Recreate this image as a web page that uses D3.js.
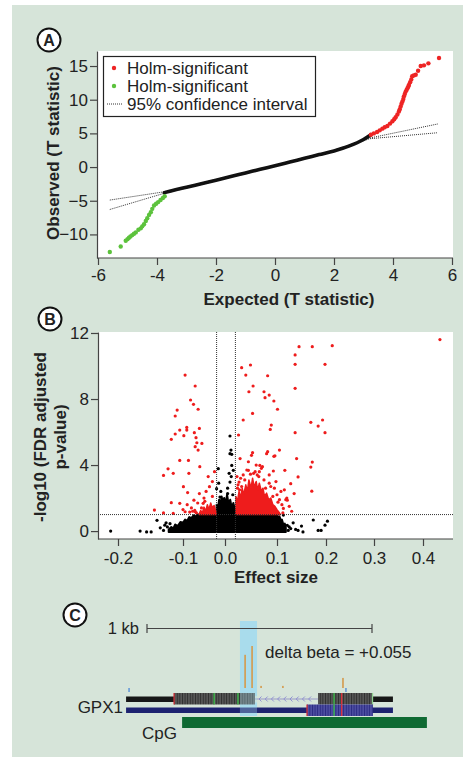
<!DOCTYPE html>
<html><head><meta charset="utf-8">
<script src="https://cdn.jsdelivr.net/npm/d3@7"></script>
<style>
body{margin:0;background:#fff}
svg{display:block}
text{font-family:"Liberation Sans",Arial,Helvetica,sans-serif;fill:#222}
</style>
</head><body>
<svg id="chart" width="463" height="757"></svg>
<script>
// ---------------- DATA ----------------
// Panel A : QQ plot
const qqTicksX = [-6,-4,-2,0,2,4,6];
const qqTicksY = [-10,-5,0,5,10,15];
const qqBodyExpected = [-3.75,-3.5,-3,-2.5,-2,-1.5,-1,-0.5,0,0.5,1,1.5,2,2.5,3,3.25];
const qqBodyObserved = [-3.8,-3.5,-3.0,-2.47,-1.95,-1.4,-0.87,-0.33,0.2,0.75,1.3,1.85,2.4,3.1,4.1,4.8];
const qqUpExpected = [3.25,3.35,3.46,3.55,3.64,3.72,3.81,3.9,3.98,4.04,4.09,4.15,4.2,4.23,4.26,4.29,4.32,4.35,4.37,4.4,4.43,4.46,4.49,4.52,4.54,4.58,4.62,4.65,4.7,4.77,4.85,4.94,5.05,5.2,5.56];
const qqUpObserved = [4.8,5.0,5.2,5.45,5.7,5.9,6.1,6.45,6.8,7.1,7.4,7.8,8.25,8.6,9.0,9.4,9.75,10.1,10.5,10.85,11.2,11.45,11.7,11.95,12.2,12.6,13.0,13.5,13.6,13.7,14.3,15.0,15.1,15.4,16.2];
const qqLowExpected = [-3.74,-3.8,-3.88,-3.96,-4.03,-4.1,-4.16,-4.21,-4.27,-4.33,-4.38,-4.44,-4.5,-4.55,-4.63,-4.72,-4.78,-4.84,-4.9,-4.95,-5.0,-5.06,-5.23,-5.6];
const qqLowObserved = [-4.33,-4.6,-4.9,-5.2,-5.45,-5.7,-6.2,-6.7,-7.1,-7.6,-8.0,-8.5,-8.8,-9.1,-9.3,-9.7,-9.9,-10.1,-10.3,-10.5,-10.7,-10.95,-11.8,-12.6];
const ciExpected = [-5.6,-3.8,-2,0,2,3.2,5.52];
const ciUpper = [-4.9,-3.7,-1.85,0.3,2.5,4.3,6.4];
const ciLower = [-6.3,-3.95,-2.05,0.1,2.3,4.2,5.1];
const legendLabels = ["Holm-significant","Holm-significant","95% confidence interval"];

// Panel B : volcano plot
const volTicksX = [-0.2,-0.1,0.0,0.1,0.2,0.3,0.4];
const volTickLabelsX = ["-0.2","-0.1","0.0","0.1","0.2","0.3","0.4"];
const volTicksY = [0,4,8,12];
const effectCut = [-0.02, 0.02];
const fdrCut = 1;
const sigX = [0.435,0.145,0.172,0.213,0.137,0.137,0.198,0.049,0.032,0.04,0.082,-0.095,-0.071,0.054,0.046,0.075,0.085,0.077,0.094,0.137,-0.082,-0.075,-0.064,-0.109,-0.112,0.101,0.053,0.035,0.089,0.087,0.169,0.193,0.184,0.198,0.137,-0.105,-0.091,-0.091,-0.061,-0.112,-0.098,-0.118,-0.073,0.026,-0.069,-0.067,-0.055,-0.071,-0.064,0.053,0.082,0.105,0.096,
  -0.13,-0.123,-0.115,-0.099,-0.086,-0.06,-0.04,-0.037,-0.089,-0.118,-0.105,-0.144,-0.061,-0.074,-0.052,-0.034,-0.071,-0.095,-0.115,-0.105,-0.087,0.051,0.08,0.094,0.14,0.172,0.169,0.171,0.045,0.067,0.093,0.116,0.143,0.128,0.135,0.121,0.113,0.029,0.027,
  0.035,0.055,0.065,0.075,0.085,0.095,0.1,0.105,0.11,0.025,0.03,0.045,0.06,0.07,0.085,0.115,0.12,0.125,0.13,-0.05,-0.045,-0.03,-0.08,-0.09,-0.1,-0.065,-0.13,-0.03,-0.025,0.108,0.118,0.098,0.058,0.042,0.072,0.088,-0.042,-0.056,-0.077,0.023,0.024,
  -0.068,-0.072,-0.084,-0.048,-0.038,-0.028,0.112,0.102,0.092,0.078,0.062,0.038,0.032,0.028,0.066,0.049];
const sigY = [11.6,11.17,11.17,11.23,10.67,10.1,10.1,10.06,9.9,9.45,9.41,9.45,8.79,8.79,8.44,8.44,8.24,8.08,7.88,8.65,7.94,7.68,7.38,7.33,6.97,7.38,7.13,6.73,6.42,6.16,6.59,6.73,6.36,5.96,5.96,6.12,6.28,6.12,6.22,5.88,5.78,5.56,5.96,5.82,5.66,5.35,5.31,5.11,4.91,4.75,4.81,4.91,4.56,
  3.37,3.77,3.5,2.69,3.5,3.9,3.3,2.69,2.33,1.72,1.68,1.27,2.27,1.87,1.68,1.47,1.17,1.17,1.07,4.28,4.28,4.59,4.69,4.53,4.39,4.18,3.88,2.42,3.68,3.98,3.64,3.68,3.28,2.87,2.27,1.87,1.37,4.39,2.97,
  3.4,3.5,3.3,3.1,2.9,2.6,2.2,1.9,1.6,2.8,3.2,4.2,4.0,3.8,3.4,2.5,2.0,1.5,1.2,2.0,2.4,2.1,1.4,1.6,1.3,1.7,1.1,3.0,3.6,2.4,1.9,3.0,3.6,3.7,3.9,2.7,1.2,1.4,1.2,3.3,2.6,
  1.1,1.25,1.15,1.8,1.3,1.45,1.1,1.75,2.1,2.6,3.4,3.1,2.7,2.5,3.6,3.45];
const nsX = [0.0096,0.0115,0.013,0.0096,0.013,0.016,-0.016,0.0096,-0.02,0.005,-0.012,0.005,-0.01,0.015,-0.015,0.012,0.008,
  -0.211,-0.166,-0.156,-0.149,-0.14,-0.13,-0.128,0.133,0.15,0.174,0.184,0.19,0.203,0.198,0.123,0.143,0.153,0.105,0.113,-0.135,-0.12,0.125,0.138,-0.126,-0.124,0.121,0.128];
const nsY = [5.76,4.91,4.65,4.69,3.98,3.68,3.78,2.97,2.57,2.27,2.06,2.6,2.4,2.2,2.9,3.3,3.5,
  0.0,0.0,-0.05,-0.05,0.65,0.04,0.36,0.5,0.3,0.67,0.04,0.04,0.6,0.36,0.04,0.04,-0.05,0.75,0.97,0.2,0.45,0.25,0.1,0.5,0.25,0.35,0.15];
// dense point clouds (outlines)
const denseNsX = [-0.122,-0.122,-0.118,-0.115,-0.112,-0.108,-0.104,-0.1,-0.095,-0.09,-0.085,-0.08,-0.075,-0.07,-0.065,-0.06,-0.02,-0.02,-0.017,-0.014,-0.011,-0.008,-0.005,-0.002,0.001,0.004,0.007,0.01,0.013,0.016,0.02,0.02,0.1,0.102,0.105,0.108,0.11,0.113,0.116,0.118,0.118];
const denseNsY = [-0.05,0.1,0.25,0.15,0.4,0.3,0.55,0.5,0.7,0.62,0.85,0.78,0.95,0.88,1.0,1.0,1.0,1.6,1.3,1.9,1.5,2.1,1.7,2.0,1.6,2.2,1.6,1.9,1.4,1.7,1.2,1.0,1.0,0.8,0.9,0.6,0.7,0.4,0.45,0.2,-0.05];
const denseSigX = [0.021,0.021,0.024,0.027,0.03,0.033,0.036,0.04,0.043,0.046,0.05,0.053,0.056,0.06,0.063,0.066,0.07,0.073,0.076,0.08,0.084,0.088,0.092,0.096,0.1,0.104,0.107];
const denseSigY = [1.0,2.1,1.8,2.4,2.0,2.6,2.2,2.8,2.4,3.1,2.6,3.2,2.7,3.0,2.5,2.9,2.4,2.6,2.1,2.3,1.9,2.0,1.6,1.5,1.3,1.15,1.0];
const denseSigLeftX = [-0.062,-0.058,-0.054,-0.05,-0.046,-0.042,-0.038,-0.034,-0.03,-0.026,-0.022,-0.021];
const denseSigLeftY = [1.0,1.25,1.1,1.45,1.2,1.6,1.3,1.7,1.35,1.55,1.2,1.0];

// Panel C : genome browser (bp relative to scale bar start)
const scaleBarBp = [0, 1000];
const scaleBarLabel = "1 kb";
const highlightBp = [413, 489];
const methylPosBp = [436, 467, 507, 604, 871];
const methylValue = [0.79, 1.0, 0.05, 0.05, 0.24];
const snpPosBp = [-80, 884];
const deltaBetaLabel = "delta beta = +0.055";
const txRange = [-93, 1093];
const tx1Blocks = [[120,480],[760,1004]];
const tx1Intron = [480,760];
const tx2Blocks = [[711,1004]];
const tx1MarkBp = [120,298,404,831,865,1002];
const tx1MarkColor = ["#d8323a","#3cc24a","#3cc24a","#3cc24a","#e0303a","#8fd08f"];
const tx2MarkBp = [711,831,865];
const tx2MarkColor = ["#d8323a","#3cc24a","#e0303a"];
const cpgBp = [156, 1244];
const geneLabel = "GPX1", cpgLabel = "CpG";

// ---------------- DRAW ----------------
const svg = d3.select("#chart");
const BG = "#d6e4d9";
svg.append("rect").attr("x",12).attr("y",5).attr("width",451).attr("height",752).attr("fill",BG);

function circleLabel(cx, cy, letter){
  svg.append("circle").attr("cx",cx).attr("cy",cy).attr("r",11.5).attr("fill","#fff").attr("stroke","#111").attr("stroke-width",2);
  svg.append("text").attr("x",cx).attr("y",cy+5.5).attr("text-anchor","middle").attr("font-size",16).attr("font-weight","bold").text(letter);
}

// ===== Panel A =====
const xA = d3.scaleLinear().domain([-6,6]).range([98,452]);
const yA = d3.scaleLinear().domain([-13.5,17.23]).range([258,51]);
svg.append("rect").attr("x",97).attr("y",51).attr("width",356).attr("height",207).attr("fill","#fff");

const ciLine = d3.line().x(d=>xA(d[0])).y(d=>yA(d[1]));
[ciUpper, ciLower].forEach(arr=>{
  svg.append("path").attr("d",ciLine(ciExpected.map((e,i)=>[e,arr[i]])))
    .attr("fill","none").attr("stroke","#333").attr("stroke-width",1).attr("stroke-dasharray","1,1");
});
svg.append("path").attr("d", d3.line().curve(d3.curveMonotoneX).x(d=>xA(d[0])).y(d=>yA(d[1]))(qqBodyExpected.map((e,i)=>[e,qqBodyObserved[i]])))
  .attr("fill","none").attr("stroke","#111").attr("stroke-width",3.6).attr("stroke-linecap","round");
svg.append("g").selectAll("circle").data(qqUpExpected.map((e,i)=>[e,qqUpObserved[i]])).join("circle")
  .attr("cx",d=>xA(d[0])).attr("cy",d=>yA(d[1])).attr("r",2.2).attr("fill","#ee2424");
svg.append("g").selectAll("circle").data(qqLowExpected.map((e,i)=>[e,qqLowObserved[i]])).join("circle")
  .attr("cx",d=>xA(d[0])).attr("cy",d=>yA(d[1])).attr("r",2.2).attr("fill","#5cc23c");

function styleAxis(g){
  g.selectAll("path.domain").attr("stroke","#444").attr("stroke-width",1.2);
  g.selectAll(".tick line").attr("stroke","#444").attr("stroke-width",1.2);
  g.selectAll(".tick text").attr("font-size",17).attr("fill","#222").attr("font-family","'Liberation Sans',Arial,sans-serif");
}
const axAy = svg.append("g").attr("transform","translate(97,0)")
  .call(d3.axisLeft(yA).tickValues(qqTicksY).tickSize(7).tickSizeOuter(0).tickPadding(2));
styleAxis(axAy);
const axAx = svg.append("g").attr("transform","translate(0,258)")
  .call(d3.axisBottom(xA).tickValues(qqTicksX).tickSize(7).tickSizeOuter(0).tickPadding(4).tickFormat(d=>String(d)));
axAx.select("path.domain").attr("d","M97,0H453");
styleAxis(axAx);

svg.append("text").attr("x",289).attr("y",305).attr("text-anchor","middle").attr("font-size",17).attr("font-weight","bold").text("Expected (T statistic)");
svg.append("text").attr("transform","translate(59,153) rotate(-90)").attr("text-anchor","middle").attr("font-size",17).attr("font-weight","bold").text("Observed (T statistic)");

// legend
const lg = svg.append("g");
lg.append("rect").attr("x",103.5).attr("y",56.5).attr("width",212).attr("height",60).attr("fill","#fff").attr("stroke","#222").attr("stroke-width",1.2);
const legColors = ["#ee2424","#5cc23c"];
legendLabels.forEach((t,i)=>{
  const cy = 68 + i*18;
  if(i<2) lg.append("circle").attr("cx",114).attr("cy",cy).attr("r",2.2).attr("fill",legColors[i]);
  else lg.append("line").attr("x1",107).attr("x2",123).attr("y1",cy).attr("y2",cy).attr("stroke","#333").attr("stroke-dasharray","1,1");
  lg.append("text").attr("x",127).attr("y",cy+6).attr("font-size",17).text(t);
});
circleLabel(49,40,"A");

// ===== Panel B =====
const xB = d3.scaleLinear().domain([-0.23,-0.2,-0.1,0,0.1,0.2,0.3,0.4,0.462]).range([98,118,183,225,277,326,374,423,453]);
const yB = d3.scaleLinear().domain([-0.48,12.06]).range([539,332]);
svg.append("rect").attr("x",98).attr("y",332).attr("width",355).attr("height",207).attr("fill","#fff");

const areaPath = (xs,ys)=> "M" + xs.map((x,i)=>xB(x)+","+yB(ys[i])).join("L") + "Z";
svg.append("path").attr("d",areaPath(denseNsX,denseNsY)).attr("fill","#000").attr("stroke","#000").attr("stroke-width",2).attr("stroke-linejoin","round");
svg.append("path").attr("d",areaPath(denseSigX,denseSigY)).attr("fill","#ee1c1c").attr("stroke","#ee1c1c").attr("stroke-width",1.5).attr("stroke-linejoin","round");
svg.append("path").attr("d",areaPath(denseSigLeftX,denseSigLeftY)).attr("fill","#ee1c1c").attr("stroke","#ee1c1c").attr("stroke-width",1.5).attr("stroke-linejoin","round");
svg.append("g").selectAll("circle").data(nsX.map((x,i)=>[x,nsY[i]])).join("circle")
  .attr("cx",d=>xB(d[0])).attr("cy",d=>yB(d[1])).attr("r",1.6).attr("fill","#000");
svg.append("g").selectAll("circle").data(sigX.map((x,i)=>[x,sigY[i]])).join("circle")
  .attr("cx",d=>xB(d[0])).attr("cy",d=>yB(d[1])).attr("r",1.6).attr("fill","#ee1c1c");

effectCut.forEach(v=>{
  svg.append("line").attr("x1",xB(v)).attr("x2",xB(v)).attr("y1",332).attr("y2",539)
    .attr("stroke","#333").attr("stroke-width",1).attr("stroke-dasharray","1,1");
});
svg.append("line").attr("x1",98).attr("x2",453).attr("y1",yB(fdrCut)).attr("y2",yB(fdrCut))
  .attr("stroke","#333").attr("stroke-width",1).attr("stroke-dasharray","1,1");

const axBy = svg.append("g").attr("transform","translate(98,0)")
  .call(d3.axisLeft(yB).tickValues(volTicksY).tickSize(7).tickSizeOuter(0).tickPadding(2));
styleAxis(axBy);
const axBx = svg.append("g").attr("transform","translate(0,539)")
  .call(d3.axisBottom(xB).tickValues(volTicksX).tickSize(7).tickSizeOuter(0).tickPadding(6).tickFormat((d,i)=>volTickLabelsX[i]));
axBx.select("path.domain").attr("d","M98,0H453");
styleAxis(axBx);

svg.append("text").attr("x",276).attr("y",583).attr("text-anchor","middle").attr("font-size",17).attr("font-weight","bold").text("Effect size");
svg.append("text").attr("transform","translate(46,437) rotate(-90)").attr("text-anchor","middle").attr("font-size",17).attr("font-weight","bold").text("-log10 (FDR adjusted");
svg.append("text").attr("transform","translate(66,437) rotate(-90)").attr("text-anchor","middle").attr("font-size",17).attr("font-weight","bold").text("p-value)");
circleLabel(50,319,"B");

// ===== Panel C =====
const xC = d3.scaleLinear().domain([0,1000]).range([147,372]);
const defs = svg.append("defs");
const p1 = defs.append("pattern").attr("id","stripeK").attr("patternUnits","userSpaceOnUse").attr("width",2.6).attr("height",20);
p1.append("rect").attr("width",2.6).attr("height",20).attr("fill","#2e2e2e");
p1.append("rect").attr("x",1.3).attr("width",0.9).attr("height",20).attr("fill","#7a7a7a");
const p2 = defs.append("pattern").attr("id","stripeN").attr("patternUnits","userSpaceOnUse").attr("width",2.6).attr("height",20);
p2.append("rect").attr("width",2.6).attr("height",20).attr("fill","#2a2a82");
p2.append("rect").attr("x",1.3).attr("width",0.9).attr("height",20).attr("fill","#6c6cbc");

// highlight
svg.append("rect").attr("x",xC(highlightBp[0])).attr("y",621).attr("width",xC(highlightBp[1])-xC(highlightBp[0])).attr("height",95).attr("fill","#a9dcec");

// scale bar
svg.append("line").attr("x1",xC(scaleBarBp[0])).attr("x2",xC(scaleBarBp[1])).attr("y1",628.5).attr("y2",628.5).attr("stroke","#444").attr("stroke-width",1.2);
scaleBarBp.forEach(b=>svg.append("line").attr("x1",xC(b)).attr("x2",xC(b)).attr("y1",624).attr("y2",633).attr("stroke","#444").attr("stroke-width",1.2));
svg.append("text").attr("x",139).attr("y",634).attr("text-anchor","end").attr("font-size",16.5).text(scaleBarLabel);
svg.append("text").attr("x",265).attr("y",658).attr("font-size",17).text(deltaBetaLabel);

// methylation bars
const yM = d3.scaleLinear().domain([0,1]).range([688,646]);
methylPosBp.forEach((b,i)=>{
  svg.append("rect").attr("x",xC(b)-0.8).attr("y",yM(methylValue[i])).attr("width",1.6).attr("height",688-yM(methylValue[i])).attr("fill","#d49a4c");
});
snpPosBp.forEach(b=>{
  svg.append("rect").attr("x",xC(b)-0.6).attr("y",688).attr("width",1.3).attr("height",4).attr("fill","#4a88d8");
});

// transcript 1 (black)
svg.append("rect").attr("x",xC(txRange[0])).attr("y",696.5).attr("width",xC(txRange[1])-xC(txRange[0])).attr("height",5.5).attr("fill","#161616");
svg.append("rect").attr("x",xC(tx1Intron[0])).attr("y",696).attr("width",xC(tx1Intron[1])-xC(tx1Intron[0])).attr("height",6.5).attr("fill",BG);
svg.append("line").attr("x1",xC(tx1Intron[0])).attr("x2",xC(tx1Intron[1])).attr("y1",699).attr("y2",699).attr("stroke","#9a9ac8").attr("stroke-width",1);
d3.range(xC(tx1Intron[0])+5, xC(tx1Intron[1])-3, 6.2).forEach(x=>{
  svg.append("path").attr("d",`M${x+1.5},696.5L${x-1},699L${x+1.5},701.5`).attr("fill","none").attr("stroke","#8a8ad0").attr("stroke-width",0.9);
});
tx1Blocks.forEach(b=>{
  svg.append("rect").attr("x",xC(b[0])).attr("y",693).attr("width",xC(b[1])-xC(b[0])).attr("height",11.5).attr("fill","url(#stripeK)");
});
tx1MarkBp.forEach((b,i)=>svg.append("rect").attr("x",xC(b)-0.6).attr("y",693).attr("width",1.3).attr("height",11.5).attr("fill",tx1MarkColor[i]));

// transcript 2 (navy)
svg.append("rect").attr("x",xC(txRange[0])).attr("y",707.5).attr("width",xC(txRange[1])-xC(txRange[0])).attr("height",5.5).attr("fill","#1d2270");
tx2Blocks.forEach(b=>{
  svg.append("rect").attr("x",xC(b[0])).attr("y",704.5).attr("width",xC(b[1])-xC(b[0])).attr("height",11.5).attr("fill","url(#stripeN)");
});
tx2MarkBp.forEach((b,i)=>svg.append("rect").attr("x",xC(b)-0.6).attr("y",704.5).attr("width",1.3).attr("height",11.5).attr("fill",tx2MarkColor[i]));

// highlight overlay on tracks
svg.append("rect").attr("x",xC(highlightBp[0])).attr("y",692).attr("width",xC(highlightBp[1])-xC(highlightBp[0])).attr("height",24).attr("fill","#a9dcec").attr("opacity",0.35);

// CpG island
svg.append("rect").attr("x",xC(cpgBp[0])).attr("y",717).attr("width",xC(cpgBp[1])-xC(cpgBp[0])).attr("height",11).attr("fill","#0f6a33");

svg.append("text").attr("x",123).attr("y",713).attr("text-anchor","end").attr("font-size",17).text(geneLabel);
svg.append("text").attr("x",177).attr("y",739).attr("text-anchor","end").attr("font-size",17).text(cpgLabel);
circleLabel(75,615,"C");
</script>
</body></html>
